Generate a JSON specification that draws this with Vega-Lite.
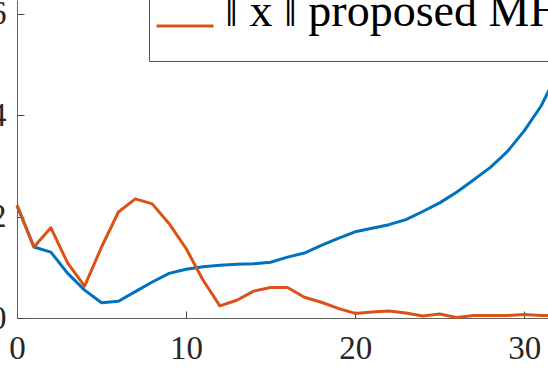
{
  "$schema": "https://vega.github.io/schema/vega-lite/v6.json",
  "autosize": {"type": "none"},
  "padding": {"left": 17, "top": 0, "right": 0, "bottom": 60},
  "width": 541,
  "height": 318,
  "background": "white",
  "config": {"view": {"stroke": null}, "legend": {"strokeWidth": 1}},
  "data": {
    "values": [
      {"k": 0, "series": "‖ x ‖ standard MHE", "v": 2.22},
      {"k": 1, "series": "‖ x ‖ standard MHE", "v": 1.40},
      {"k": 2, "series": "‖ x ‖ standard MHE", "v": 1.30},
      {"k": 3, "series": "‖ x ‖ standard MHE", "v": 0.88},
      {"k": 4, "series": "‖ x ‖ standard MHE", "v": 0.55},
      {"k": 5, "series": "‖ x ‖ standard MHE", "v": 0.30},
      {"k": 6, "series": "‖ x ‖ standard MHE", "v": 0.33},
      {"k": 7, "series": "‖ x ‖ standard MHE", "v": 0.52},
      {"k": 8, "series": "‖ x ‖ standard MHE", "v": 0.71},
      {"k": 9, "series": "‖ x ‖ standard MHE", "v": 0.88},
      {"k": 10, "series": "‖ x ‖ standard MHE", "v": 0.96},
      {"k": 11, "series": "‖ x ‖ standard MHE", "v": 1.01},
      {"k": 12, "series": "‖ x ‖ standard MHE", "v": 1.04},
      {"k": 13, "series": "‖ x ‖ standard MHE", "v": 1.06},
      {"k": 14, "series": "‖ x ‖ standard MHE", "v": 1.07},
      {"k": 15, "series": "‖ x ‖ standard MHE", "v": 1.10},
      {"k": 16, "series": "‖ x ‖ standard MHE", "v": 1.20},
      {"k": 17, "series": "‖ x ‖ standard MHE", "v": 1.28},
      {"k": 18, "series": "‖ x ‖ standard MHE", "v": 1.43},
      {"k": 19, "series": "‖ x ‖ standard MHE", "v": 1.57},
      {"k": 20, "series": "‖ x ‖ standard MHE", "v": 1.70},
      {"k": 21, "series": "‖ x ‖ standard MHE", "v": 1.77},
      {"k": 22, "series": "‖ x ‖ standard MHE", "v": 1.84},
      {"k": 23, "series": "‖ x ‖ standard MHE", "v": 1.94},
      {"k": 24, "series": "‖ x ‖ standard MHE", "v": 2.10},
      {"k": 25, "series": "‖ x ‖ standard MHE", "v": 2.27},
      {"k": 26, "series": "‖ x ‖ standard MHE", "v": 2.48},
      {"k": 27, "series": "‖ x ‖ standard MHE", "v": 2.72},
      {"k": 28, "series": "‖ x ‖ standard MHE", "v": 2.97},
      {"k": 29, "series": "‖ x ‖ standard MHE", "v": 3.28},
      {"k": 30, "series": "‖ x ‖ standard MHE", "v": 3.69},
      {"k": 31, "series": "‖ x ‖ standard MHE", "v": 4.18},
      {"k": 32, "series": "‖ x ‖ standard MHE", "v": 4.85},
      {"k": 0, "series": "‖ x ‖ proposed MHE", "v": 2.22},
      {"k": 1, "series": "‖ x ‖ proposed MHE", "v": 1.40},
      {"k": 2, "series": "‖ x ‖ proposed MHE", "v": 1.78},
      {"k": 3, "series": "‖ x ‖ proposed MHE", "v": 1.08},
      {"k": 4, "series": "‖ x ‖ proposed MHE", "v": 0.63},
      {"k": 5, "series": "‖ x ‖ proposed MHE", "v": 1.40},
      {"k": 6, "series": "‖ x ‖ proposed MHE", "v": 2.09},
      {"k": 7, "series": "‖ x ‖ proposed MHE", "v": 2.35},
      {"k": 8, "series": "‖ x ‖ proposed MHE", "v": 2.25},
      {"k": 9, "series": "‖ x ‖ proposed MHE", "v": 1.86},
      {"k": 10, "series": "‖ x ‖ proposed MHE", "v": 1.37},
      {"k": 11, "series": "‖ x ‖ proposed MHE", "v": 0.75},
      {"k": 12, "series": "‖ x ‖ proposed MHE", "v": 0.24},
      {"k": 13, "series": "‖ x ‖ proposed MHE", "v": 0.35},
      {"k": 14, "series": "‖ x ‖ proposed MHE", "v": 0.53},
      {"k": 15, "series": "‖ x ‖ proposed MHE", "v": 0.60},
      {"k": 16, "series": "‖ x ‖ proposed MHE", "v": 0.60},
      {"k": 17, "series": "‖ x ‖ proposed MHE", "v": 0.41},
      {"k": 18, "series": "‖ x ‖ proposed MHE", "v": 0.31},
      {"k": 19, "series": "‖ x ‖ proposed MHE", "v": 0.19},
      {"k": 20, "series": "‖ x ‖ proposed MHE", "v": 0.09},
      {"k": 21, "series": "‖ x ‖ proposed MHE", "v": 0.12},
      {"k": 22, "series": "‖ x ‖ proposed MHE", "v": 0.14},
      {"k": 23, "series": "‖ x ‖ proposed MHE", "v": 0.10},
      {"k": 24, "series": "‖ x ‖ proposed MHE", "v": 0.04},
      {"k": 25, "series": "‖ x ‖ proposed MHE", "v": 0.08},
      {"k": 26, "series": "‖ x ‖ proposed MHE", "v": 0.01},
      {"k": 27, "series": "‖ x ‖ proposed MHE", "v": 0.05},
      {"k": 28, "series": "‖ x ‖ proposed MHE", "v": 0.05},
      {"k": 29, "series": "‖ x ‖ proposed MHE", "v": 0.05},
      {"k": 30, "series": "‖ x ‖ proposed MHE", "v": 0.07},
      {"k": 31, "series": "‖ x ‖ proposed MHE", "v": 0.05},
      {"k": 32, "series": "‖ x ‖ proposed MHE", "v": 0.05}
    ]
  },
  "mark": {"type": "line", "strokeWidth": 3, "strokeJoin": "round"},
  "encoding": {
    "x": {
      "field": "k", "type": "quantitative",
      "scale": {"domain": [0, 32], "nice": false, "zero": false},
      "axis": {
        "values": [0, 10, 20, 30], "grid": false,
        "title": "Time", "titleFont": "Liberation Serif", "titleFontSize": 38,
        "titleFontWeight": "normal", "titleColor": "#262626",
        "titleAnchor": "start", "titleX": 213, "titleY": 84, "titleBaseline": "alphabetic",
        "labelFont": "Liberation Serif", "labelFontSize": 33, "labelColor": "#262626",
        "tickSize": -7, "tickColor": "#404040", "domainColor": "#606060",
        "labelPadding": 21, "labelFlush": false
      }
    },
    "y": {
      "field": "v", "type": "quantitative",
      "scale": {"domain": [0, 6.27], "nice": false},
      "axis": {
        "values": [0, 2, 4, 6], "grid": false, "title": null,
        "labelFont": "Liberation Serif", "labelFontSize": 33, "labelColor": "#262626",
        "tickSize": -7, "tickColor": "#404040", "domainColor": "#606060",
        "labelPadding": 18, "labelFlush": false
      }
    },
    "color": {
      "field": "series", "type": "nominal",
      "scale": {"domain": ["‖ x ‖ standard MHE", "‖ x ‖ proposed MHE"], "range": ["#0072BD", "#D95319"]},
      "legend": {
        "title": null, "orient": "none", "legendX": 132, "legendY": -80,
        "symbolType": "M-1,0H1M0,0.8M0,-0.8", "symbolSize": 3249, "symbolStrokeWidth": 3,
        "symbolFillColor": "transparent",
        "labelFont": "Liberation Serif", "labelFontSize": 46, "labelColor": "#000000",
        "labelBaseline": "alphabetic",
        "labelLimit": 0, "labelOffset": 10,
        "padding": 6, "rowPadding": 4,
        "fillColor": "white", "strokeColor": "#505050"
      }
    }
  }
}
